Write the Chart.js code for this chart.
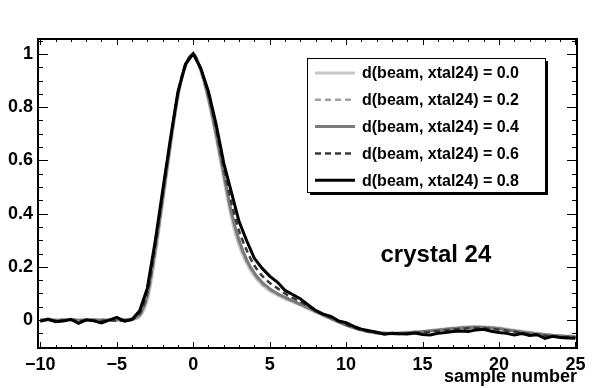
<!DOCTYPE html>
<html>
<head>
<meta charset="utf-8">
<title>crystal 24</title>
<script src="https://cdn.jsdelivr.net/npm/chart.js@4"></script>
<style>
  html, body { margin: 0; padding: 0; background: #fff; }
  #wrap { width: 598px; height: 388px; }
</style>
</head>
<body>
<div id="wrap"><canvas id="myChart" width="598" height="388"></canvas></div>
<script>
"use strict";

//Sample number for each point
const samples = [
  -10, -9.5, -9, -8.5, -8, -7.5, -7, -6.5, -6, -5.5,
  -5, -4.5, -4, -3.5, -3, -2.5, -2, -1.5, -1, -0.5,
  0, 0.5, 1, 1.5, 2, 2.5, 3, 3.5, 4, 4.5,
  5, 5.5, 6, 6.5, 7, 7.5, 8, 8.5, 9, 9.5,
  10, 10.5, 11, 11.5, 12, 12.5, 13, 13.5, 14, 14.5,
  15, 15.5, 16, 16.5, 17, 17.5, 18, 18.5, 19, 19.5,
  20, 20.5, 21, 21.5, 22, 22.5, 23, 23.5, 24, 24.5,
  25
];

//Pulse shapes, one per distance d(beam, xtal24)
const d00 = [
  0.002, 0.001, 0.0, 0.002, 0.001, 0.0, 0.001, 0.002, 0.0, 0.001,
  0.0, 0.0, 0.002, 0.012, 0.075, 0.235, 0.44, 0.645, 0.835, 0.955,
  1.0, 0.935, 0.825, 0.685, 0.53, 0.385, 0.28, 0.212, 0.165, 0.132,
  0.11, 0.094, 0.08, 0.068, 0.056, 0.043, 0.03, 0.017, 0.005, -0.007,
  -0.018, -0.028, -0.036, -0.042, -0.046, -0.048, -0.049, -0.048, -0.046, -0.044,
  -0.042, -0.039, -0.036, -0.033, -0.03, -0.027, -0.025, -0.024, -0.025, -0.027,
  -0.03, -0.034, -0.038, -0.042, -0.046, -0.05, -0.053, -0.056, -0.058, -0.06,
  -0.061
];
const d02 = [
  0.001, 0.002, 0.0, 0.001, 0.002, 0.0, 0.001, 0.0, 0.002, 0.001,
  0.0, 0.001, 0.003, 0.016, 0.085, 0.25, 0.45, 0.655, 0.84, 0.957,
  1.0, 0.938, 0.83, 0.695, 0.545, 0.4, 0.295, 0.222, 0.172, 0.138,
  0.114, 0.097, 0.083, 0.07, 0.058, 0.045, 0.031, 0.018, 0.005, -0.007,
  -0.018, -0.028, -0.037, -0.043, -0.047, -0.049, -0.05, -0.049, -0.047, -0.045,
  -0.043, -0.04, -0.037, -0.034, -0.031, -0.029, -0.027, -0.026, -0.027, -0.029,
  -0.032, -0.036, -0.04, -0.044, -0.048, -0.051, -0.054, -0.057, -0.059, -0.061,
  -0.062
];
const d04 = [
  0.0, 0.001, -0.001, 0.0, 0.001, -0.001, 0.0, 0.001, -0.001, 0.0,
  0.001, 0.0, 0.004, 0.02, 0.095, 0.26, 0.455, 0.66, 0.845, 0.958,
  1.0, 0.94, 0.835, 0.7, 0.55, 0.405, 0.3, 0.226, 0.176, 0.142,
  0.118, 0.1, 0.086, 0.073, 0.06, 0.047, 0.033, 0.019, 0.006, -0.007,
  -0.019, -0.029, -0.038, -0.044, -0.048, -0.05, -0.051, -0.05, -0.048, -0.046,
  -0.044, -0.041, -0.038, -0.035, -0.032, -0.03, -0.028, -0.027, -0.028, -0.03,
  -0.033, -0.037, -0.041, -0.045, -0.049, -0.052, -0.055, -0.058, -0.06, -0.062,
  -0.063
];
const d06 = [
  -0.002, 0.0, -0.003, -0.001, 0.0, -0.004, -0.001, -0.002, -0.004, 0.0,
  -0.003, -0.001, 0.003, 0.025, 0.105, 0.275, 0.47, 0.668, 0.85, 0.96,
  1.0, 0.943, 0.848, 0.72, 0.57, 0.44, 0.335, 0.262, 0.205, 0.167,
  0.14, 0.12, 0.1, 0.084, 0.069, 0.053, 0.037, 0.022, 0.009, -0.005,
  -0.017, -0.028, -0.038, -0.044, -0.049, -0.051, -0.052, -0.052, -0.05, -0.048,
  -0.046, -0.044, -0.041, -0.038, -0.035, -0.033, -0.031, -0.03, -0.031, -0.033,
  -0.036, -0.04, -0.044, -0.048, -0.052, -0.055, -0.058, -0.061, -0.063, -0.064,
  -0.065
];
const d08 = [
  -0.005, 0.004, -0.006, -0.004, 0.003, -0.012, 0.001, -0.003, -0.011, 0.0,
  0.01, -0.004, 0.002, 0.035, 0.12, 0.29, 0.485, 0.678, 0.858, 0.962,
  1.0, 0.945, 0.858, 0.735, 0.59, 0.48, 0.37, 0.298, 0.232, 0.195,
  0.165, 0.143, 0.112, 0.096, 0.08, 0.058, 0.036, 0.022, 0.014, -0.003,
  -0.01, -0.024, -0.034, -0.04, -0.046, -0.053, -0.05, -0.051, -0.052, -0.049,
  -0.054, -0.056, -0.05, -0.047, -0.043, -0.041, -0.043, -0.037, -0.035, -0.042,
  -0.047, -0.05, -0.056, -0.051, -0.058, -0.055, -0.069, -0.061, -0.066, -0.067,
  -0.068
];

//Legend texts
const seriesLabels = [
  'd(beam, xtal24) = 0.0',
  'd(beam, xtal24) = 0.2',
  'd(beam, xtal24) = 0.4',
  'd(beam, xtal24) = 0.6',
  'd(beam, xtal24) = 0.8'
];

//Axis ticks and labels
const xTicks = [-10, -5, 0, 5, 10, 15, 20, 25];
const xTickLabels = ['\u221210', '\u22125', '0', '5', '10', '15', '20', '25'];
const yTicks = [0, 0.2, 0.4, 0.6, 0.8, 1];
const yTickLabels = ['0', '0.2', '0.4', '0.6', '0.8', '1'];

const FONT = '"Liberation Sans", Arial, Helvetica, sans-serif';

//Styles for each curve
const styles = [
  { color: '#c8c8c8', width: 3, dash: [] },
  { color: '#a0a0a0', width: 2.5, dash: [6, 4] },
  { color: '#7a7a7a', width: 3, dash: [] },
  { color: '#3a3a3a', width: 2.5, dash: [6, 4] },
  { color: '#000000', width: 3, dash: [] }
];

/**
 * Makes x/y points from the sample array and one curve
 */
function toPoints(values) {
  return samples.map((s, i) => ({ x: s, y: values[i] }));
}

//Frame with inward ticks on all four sides (ROOT style)
const framePlugin = {
  id: 'frame',
  afterDraw(chart) {
    const ctx = chart.ctx;
    const a = chart.chartArea;
    const xs = chart.scales.x;
    const ys = chart.scales.y;

    ctx.save();
    ctx.strokeStyle = '#000';
    ctx.lineWidth = 1;
    ctx.beginPath();
    for (let v = -10; v <= 25; v += 1) {
      const px = Math.round(xs.getPixelForValue(v)) + 0.5;
      const len = (v % 5 === 0) ? 6 : 3;
      ctx.moveTo(px, a.bottom);
      ctx.lineTo(px, a.bottom - len);
      ctx.moveTo(px, a.top);
      ctx.lineTo(px, a.top + len);
    }
    for (let k = -2; k <= 21; k++) {
      const v = k * 0.05;
      const py = Math.round(ys.getPixelForValue(v)) + 0.5;
      if (py < a.top || py > a.bottom) continue;
      const len = (k % 4 === 0) ? 10 : 5;
      ctx.moveTo(a.left, py);
      ctx.lineTo(a.left + len, py);
      ctx.moveTo(a.right, py);
      ctx.lineTo(a.right - len, py);
    }
    ctx.stroke();

    ctx.lineWidth = 2;
    ctx.strokeRect(a.left, a.top, a.right - a.left, a.bottom - a.top);
    ctx.restore();
  }
};

//Legend box with shadow and the "crystal 24" label
const legendPlugin = {
  id: 'boxLegend',
  afterDraw(chart) {
    const ctx = chart.ctx;
    const a = chart.chartArea;
    const left = a.left + 269;
    const top = a.top + 19;
    const w = 238;
    const h = 134;

    ctx.save();
    ctx.fillStyle = '#000';
    ctx.fillRect(left + 3, top + 3, w, h);
    ctx.fillStyle = '#fff';
    ctx.fillRect(left, top, w, h);
    ctx.strokeStyle = '#000';
    ctx.lineWidth = 1;
    ctx.strokeRect(left + 0.5, top + 0.5, w, h);

    ctx.font = 'bold 16px ' + FONT;
    ctx.textBaseline = 'middle';
    ctx.textAlign = 'left';
    chart.data.datasets.forEach((ds, i) => {
      const y = top + 15 + i * 26.8;
      ctx.strokeStyle = ds.borderColor;
      ctx.lineWidth = ds.borderWidth;
      ctx.setLineDash(ds.borderDash || []);
      ctx.beginPath();
      ctx.moveTo(left + 8, y);
      ctx.lineTo(left + 48, y);
      ctx.stroke();
      ctx.setLineDash([]);
      ctx.fillStyle = '#000';
      ctx.fillText(ds.label, left + 55, y + 1);
    });

    ctx.font = 'bold 24px ' + FONT;
    ctx.fillStyle = '#000';
    ctx.fillText('crystal 24', chart.scales.x.getPixelForValue(12.25),
      chart.scales.y.getPixelForValue(0.244));
    ctx.restore();
  }
};

const datasets = [d00, d02, d04, d06, d08].map((vals, i) => ({
  label: seriesLabels[i],
  data: toPoints(vals),
  borderColor: styles[i].color,
  borderWidth: styles[i].width,
  borderDash: styles[i].dash,
  pointRadius: 0,
  fill: false,
  tension: i === 4 ? 0 : 0.3,
  order: 4 - i
}));

new Chart(document.getElementById('myChart'), {
  type: 'line',
  data: { datasets: datasets },
  options: {
    responsive: false,
    animation: false,
    layout: { padding: { top: 39, right: 21, left: 0, bottom: 0 } },
    plugins: {
      legend: { display: false },
      tooltip: { enabled: false }
    },
    scales: {
      x: {
        type: 'linear',
        min: -10.15,
        max: 25.1,
        afterBuildTicks: s => { s.ticks = xTicks.map(v => ({ value: v })); },
        afterFit: s => { s.height = 40; },
        grid: { display: false, drawTicks: false },
        border: { display: false },
        ticks: {
          autoSkip: false,
          maxRotation: 0,
          padding: 6,
          color: '#000',
          font: { family: FONT, size: 18, weight: 'bold' },
          callback: (v, i) => xTickLabels[i]
        },
        title: {
          display: true,
          text: 'sample number',
          align: 'end',
          color: '#000',
          padding: 0,
          font: { family: FONT, size: 18, weight: 'bold' }
        }
      },
      y: {
        min: -0.105,
        max: 1.056,
        afterBuildTicks: s => { s.ticks = yTicks.map(v => ({ value: v })); },
        afterFit: s => { s.width = 38; },
        grid: { display: false, drawTicks: false },
        border: { display: false },
        ticks: {
          padding: 5,
          color: '#000',
          font: { family: FONT, size: 18, weight: 'bold' },
          callback: (v, i) => yTickLabels[i]
        }
      }
    }
  },
  plugins: [framePlugin, legendPlugin]
});
</script>
</body>
</html>
